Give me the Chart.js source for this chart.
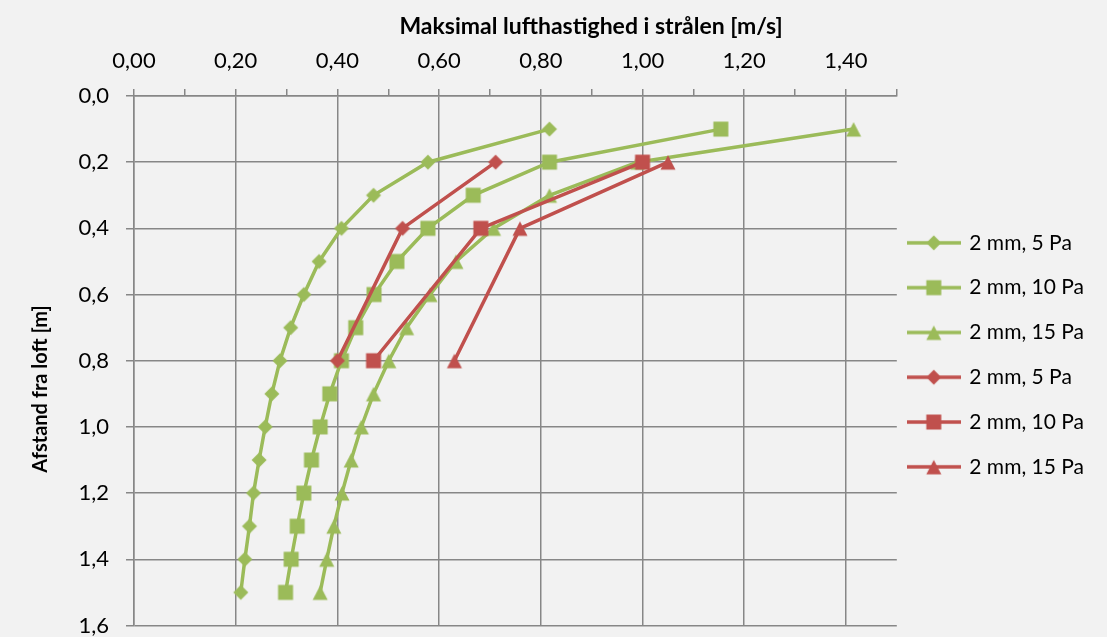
<!DOCTYPE html>
<html>
<head>
<meta charset="utf-8">
<script src="https://cdn.jsdelivr.net/npm/chart.js@4.4.1/dist/chart.umd.min.js"></script>
<style>
  html, body { margin: 0; padding: 0; background: #f2f2f2; }
  #wrap { width: 1107px; height: 637px; }
</style>
</head>
<body>
<div id="wrap"><canvas id="chart"></canvas></div>
<script>
// depth below ceiling [m]
const depthGreen = [0.1, 0.2, 0.3, 0.4, 0.5, 0.6, 0.7, 0.8, 0.9, 1.0, 1.1, 1.2, 1.3, 1.4, 1.5];
const depthRed = [0.2, 0.4, 0.8];

// max air speed [m/s]
const green5Pa = [0.817, 0.578, 0.471, 0.408, 0.364, 0.334, 0.308, 0.287, 0.271, 0.258, 0.246, 0.235, 0.227, 0.218, 0.210];
const green10Pa = [1.154, 0.817, 0.667, 0.578, 0.517, 0.472, 0.436, 0.408, 0.385, 0.366, 0.349, 0.334, 0.321, 0.309, 0.298];
const green15Pa = [1.415, 0.990, 0.817, 0.707, 0.633, 0.582, 0.536, 0.501, 0.471, 0.447, 0.427, 0.409, 0.393, 0.379, 0.366];
const red5Pa = [0.711, 0.528, 0.400];
const red10Pa = [1.000, 0.682, 0.471];
const red15Pa = [1.050, 0.759, 0.630];

const seriesLabels = ["2 mm, 5 Pa", "2 mm, 10 Pa", "2 mm, 15 Pa", "2 mm, 5 Pa", "2 mm, 10 Pa", "2 mm, 15 Pa"];

const xTitle = "Maksimal lufthastighed i strålen [m/s]";
const yTitle = "Afstand fra loft [m]";

const GREEN = "#9bbb59";
const RED = "#c0504d";
const GRID = "#878787";
const FONT = "Lato";

// marker images (Excel style: diamond, square, triangle)
function marker(shape, color) {
  const c = document.createElement("canvas");
  c.width = 18;
  c.height = 18;
  const g = c.getContext("2d");
  g.fillStyle = color;
  g.beginPath();
  if (shape === "diamond") {
    g.moveTo(9, 1.5); g.lineTo(16.5, 9); g.lineTo(9, 16.5); g.lineTo(1.5, 9);
  } else if (shape === "square") {
    g.rect(1.5, 1.5, 15, 15);
  } else {
    g.moveTo(9, 2); g.lineTo(16.5, 16.5); g.lineTo(1.5, 16.5);
  }
  g.closePath();
  g.fill();
  return c;
}

function legendIcon(shape, color) {
  const c = document.createElement("canvas");
  c.width = 54;
  c.height = 18;
  const g = c.getContext("2d");
  g.strokeStyle = color;
  g.lineWidth = 3.5;
  g.beginPath();
  g.moveTo(0, 9);
  g.lineTo(54, 9);
  g.stroke();
  g.drawImage(marker(shape, color), 18, 0);
  return c;
}

function toPoints(xs, ys) {
  return xs.map((v, i) => ({ x: v, y: ys[i] }));
}

const shapes = ["diamond", "square", "triangle", "diamond", "square", "triangle"];
const colors = [GREEN, GREEN, GREEN, RED, RED, RED];
const values = [green5Pa, green10Pa, green15Pa, red5Pa, red10Pa, red15Pa];
const depths = [depthGreen, depthGreen, depthGreen, depthRed, depthRed, depthRed];

const datasets = values.map((vals, i) => ({
  label: seriesLabels[i],
  data: toPoints(vals, depths[i]),
  borderColor: colors[i],
  backgroundColor: colors[i],
  borderWidth: 3.5,
  pointStyle: marker(shapes[i], colors[i]),
  pointRadius: 8,
  order: colors[i] === RED ? 0 : 1,
  showLine: true,
  fill: false,
}));

function isMajor(v) {
  const t = Math.round(v * 10);
  return t % 2 === 0 && t <= 14;
}

// Excel puts the axis titles a bit off-centre, so they are drawn here
const axisTitles = {
  id: "axisTitles",
  afterDraw(chart) {
    const c = chart.ctx;
    c.save();
    c.fillStyle = "#000";
    c.textAlign = "center";
    c.textBaseline = "alphabetic";
    c.font = "bold 23px " + FONT;
    c.fillText(xTitle, 591, 34);
    c.translate(47, 389);
    c.rotate(-Math.PI / 2);
    c.font = "bold 20px " + FONT;
    c.fillText(yTitle, 0, 0);
    c.restore();
  },
};

const ctx = document.getElementById("chart").getContext("2d");
const myChart = new Chart(ctx, {
  type: "line",
  data: { datasets: datasets },
  plugins: [axisTitles],
  options: {
    responsive: true,
    maintainAspectRatio: false,
    animation: false,
    layout: { padding: { left: 0, top: 0, right: 13, bottom: 10 } },
    plugins: {
      tooltip: { enabled: false },
      legend: {
        position: "right",
        fullSize: false,
        labels: {
          usePointStyle: true,
          pointStyleWidth: 50,
          padding: 12,
          color: "#000",
          font: { family: FONT, size: 21, lineHeight: 1.562 },
          generateLabels: (chart) =>
            chart.data.datasets.map((ds, i) => ({
              text: [ds.label],
              fillStyle: colors[i],
              strokeStyle: colors[i],
              lineWidth: 0,
              pointStyle: legendIcon(shapes[i], colors[i]),
              datasetIndex: i,
              hidden: false,
            })),
        },
      },
    },
    scales: {
      x: {
        type: "linear",
        position: "top",
        min: 0,
        max: 1.5,
        afterFit: (scale) => { scale.height = 96; },
        ticks: {
          stepSize: 0.1,
          autoSkip: false,
          maxRotation: 0,
          padding: 15,
          color: "#000",
          font: { family: FONT, size: 22 },
          callback: (v) => (isMajor(v) ? v.toFixed(2).replace(".", ",") : ""),
        },
        grid: {
          color: (c) => (c.tick && isMajor(c.tick.value) ? GRID : "rgba(0,0,0,0)"),
          tickColor: GRID,
          lineWidth: 1.5,
          tickLength: 7,
        },
        border: { color: GRID, width: 1.5 },
      },
      y: {
        type: "linear",
        reverse: true,
        min: 0,
        max: 1.6,
        afterFit: (scale) => {
          scale.width = 134;
          scale.paddingTop = 0;
          scale.paddingBottom = 0;
        },
        ticks: {
          stepSize: 0.2,
          padding: 17,
          color: "#000",
          font: { family: FONT, size: 22 },
          callback: (v) => v.toFixed(1).replace(".", ","),
        },
        grid: {
          color: GRID,
          tickColor: GRID,
          lineWidth: 1.5,
          tickLength: 8,
        },
        border: { color: GRID, width: 1.5 },
      },
    },
  },
});
</script>
</body>
</html>
